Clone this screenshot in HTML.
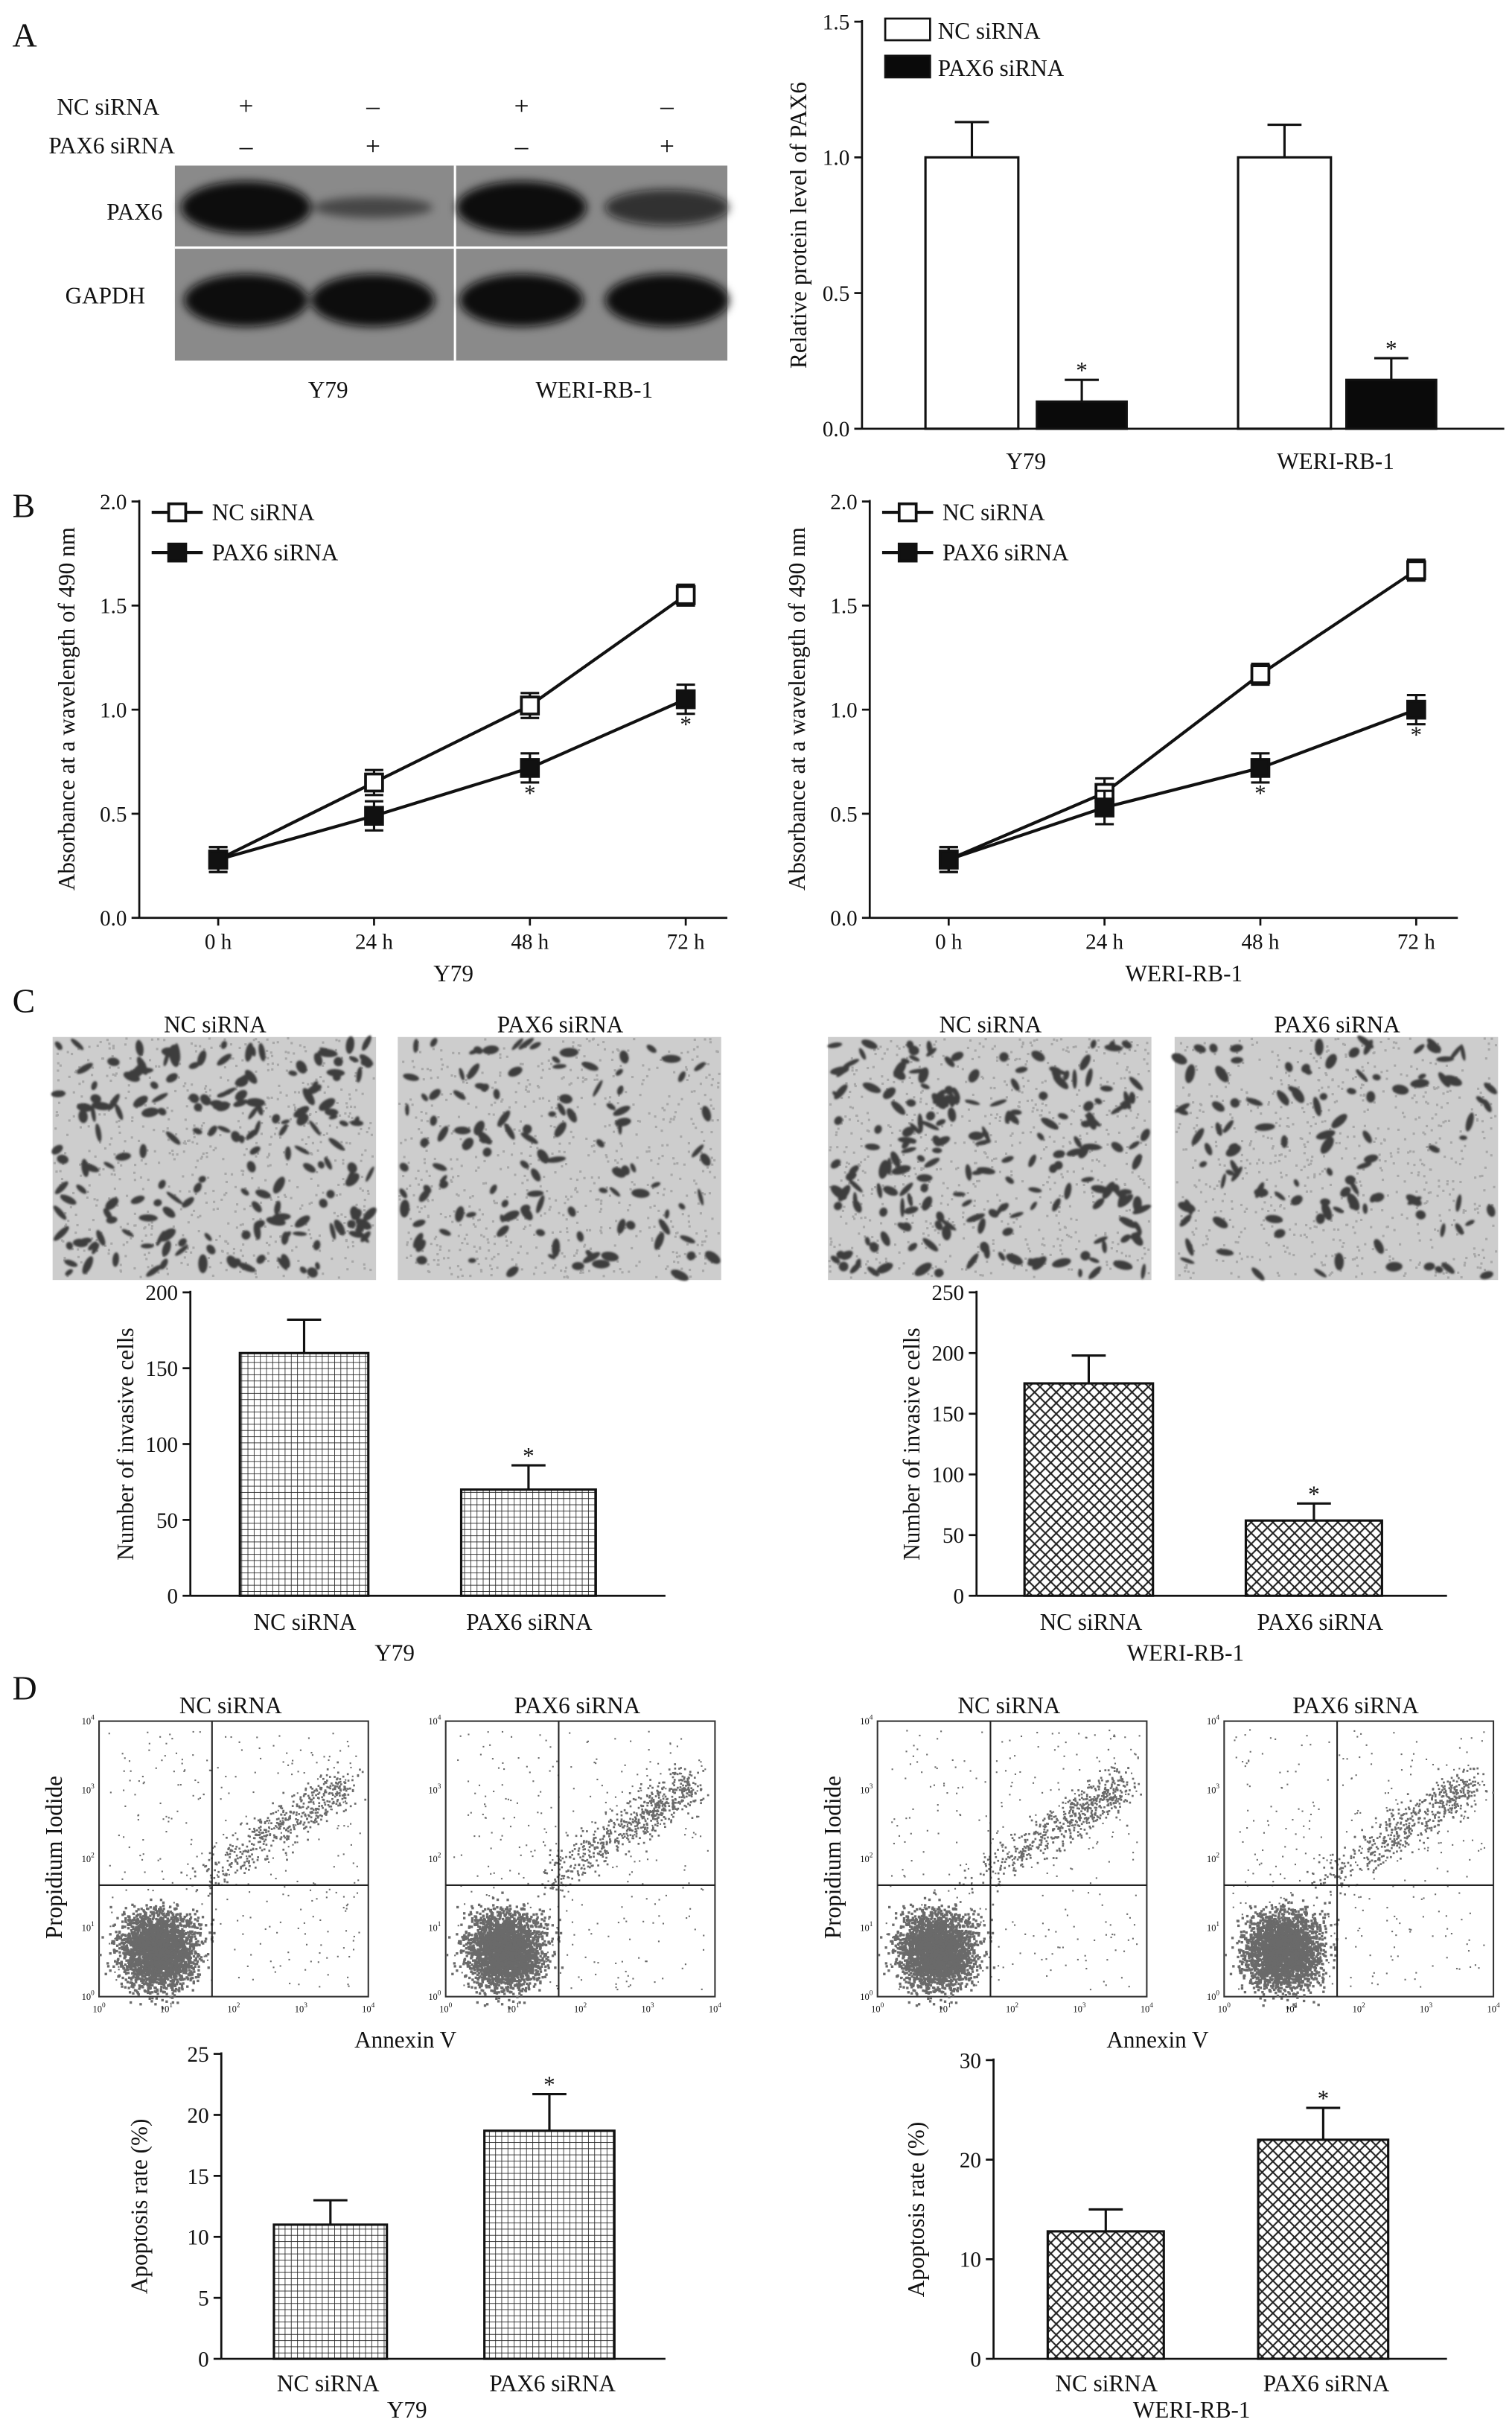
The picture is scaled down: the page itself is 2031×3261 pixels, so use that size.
<!DOCTYPE html>
<html><head><meta charset="utf-8"><title>PAX6 siRNA figure</title>
<style>
html,body{margin:0;padding:0;background:#fff;}
svg{display:block;}
text{font-family:"Liberation Serif",serif;fill:#111;}
</style></head>
<body>
<svg id="fig" xmlns="http://www.w3.org/2000/svg" width="2031" height="3261" viewBox="0 0 977 1568.7" preserveAspectRatio="none">
<defs>
<pattern id="grid" width="4" height="4" patternUnits="userSpaceOnUse"><rect width="4" height="4" fill="#fff"/><path d="M0 0H4M0 0V4" stroke="#222" stroke-width="0.8"/></pattern>
<pattern id="cross" width="7" height="7" patternUnits="userSpaceOnUse"><rect width="7" height="7" fill="#fff"/><path d="M0 0L7 7M7 0L0 7" stroke="#222" stroke-width="1"/></pattern>
<filter id="blur2"><feGaussianBlur stdDeviation="3"/></filter>
<filter id="blur1"><feGaussianBlur stdDeviation="0.6"/></filter>
</defs>
<g id="root"></g>
</svg>
<script>
// ---------- data ----------
const blotLanes = ["Y79 NC", "Y79 PAX6", "WERI NC", "WERI PAX6"];
const blotPax6Intensity = [1.0, 0.15, 1.0, 0.55];

const aCategories = ["Y79", "WERI-RB-1"];
const aNcValues = [1.0, 1.0];
const aNcErr = [0.13, 0.12];
const aPaxValues = [0.10, 0.18];
const aPaxErr = [0.08, 0.08];
const aTicks = ["0.0", "0.5", "1.0", "1.5"];

const bTimes = ["0 h", "24 h", "48 h", "72 h"];
const bTicks = ["0.0", "0.5", "1.0", "1.5", "2.0"];
const bY79Nc = [0.28, 0.65, 1.02, 1.55];
const bY79NcErr = [0.06, 0.06, 0.06, 0.05];
const bY79Pax = [0.28, 0.49, 0.72, 1.05];
const bY79PaxErr = [0.06, 0.07, 0.07, 0.07];
const bWeriNc = [0.28, 0.60, 1.17, 1.67];
const bWeriNcErr = [0.06, 0.07, 0.05, 0.05];
const bWeriPax = [0.28, 0.53, 0.72, 1.00];
const bWeriPaxErr = [0.06, 0.08, 0.07, 0.07];

const cCategories = ["NC siRNA", "PAX6 siRNA"];
const cY79Values = [160, 70];
const cY79Err = [22, 16];
const cY79Ticks = [0, 50, 100, 150, 200];
const cWeriValues = [175, 62];
const cWeriErr = [23, 14];
const cWeriTicks = [0, 50, 100, 150, 200, 250];

const dY79Values = [11.0, 18.7];
const dY79Err = [2.0, 3.0];
const dY79Ticks = [0, 5, 10, 15, 20, 25];
const dWeriValues = [12.8, 22.0];
const dWeriErr = [2.2, 3.2];
const dWeriTicks = [0, 10, 20, 30];

// ---------- helpers ----------
const NS = "http://www.w3.org/2000/svg";
const root = document.getElementById("root");
function el(tag, attrs, parent) {
  const e = document.createElementNS(NS, tag);
  for (const k in attrs) e.setAttribute(k, attrs[k]);
  (parent || root).appendChild(e);
  return e;
}
function txt(x, y, s, size, anchor, parent, rot) {
  const t = el("text", {x: x, y: y, "font-size": size || 15, "text-anchor": anchor || "middle"}, parent);
  if (rot) t.setAttribute("transform", "rotate(-90 " + x + " " + y + ")");
  t.textContent = s;
  return t;
}
function line(x1, y1, x2, y2, w, parent, col) {
  return el("line", {x1: x1, y1: y1, x2: x2, y2: y2, stroke: col || "#111", "stroke-width": w || 1.3}, parent);
}
let seed = 12345;
function rnd() { seed = (seed * 1103515245 + 12345) % 2147483648; return seed / 2147483648; }
function gauss() { return (rnd() + rnd() + rnd() + rnd() - 2) / 0.58; }

// panel letters
[["A", 8, 30], ["B", 8, 334], ["C", 8, 654], ["D", 8, 1098]].forEach(function (p) {
  const t = txt(p[1], p[2], p[0], 22, "start");
  
  
});

// ---------- Panel A: western blot ----------
const blot = el("g", {});


txt(103, 74, "NC siRNA", 15, "end", blot);
txt(113, 99, "PAX6 siRNA", 15, "end", blot);
const laneX = [159, 241, 337, 431];
const ncSigns = ["+", "\u2013", "+", "\u2013"], paxSigns = ["\u2013", "+", "\u2013", "+"];
laneX.forEach(function (x, i) {
  txt(x, 74, ncSigns[i], 17, "middle", blot);
  txt(x, 100, paxSigns[i], 17, "middle", blot);
});
el("rect", {x: 113, y: 107, width: 357, height: 126, fill: "#8a8a8a"}, blot);
line(294, 107, 294, 233, 1.5, blot, "#fff");
line(113, 160, 470, 160, 1.5, blot, "#fff");
txt(87, 142, "PAX6", 15, "middle", blot);
txt(68, 196, "GAPDH", 15, "middle", blot);
const bandG = el("g", {filter: "url(#blur2)"}, blot);
blotLanes.forEach(function (n, i) {
  const k = blotPax6Intensity[i];
  const b = el("ellipse", {cx: laneX[i], cy: 134, rx: 38 + 4 * k, ry: 5 + 12 * k, fill: "#0a0a0a", opacity: 0.4 + 0.6 * k}, bandG);
  
  
  const g2 = el("ellipse", {cx: laneX[i], cy: 194, rx: 40, ry: 17, fill: "#0a0a0a"}, bandG);
  
  
});
txt(212, 257, "Y79", 15, "middle", blot);
txt(384, 257, "WERI-RB-1", 15, "middle", blot);

// ---------- generic bar chart ----------
function barChart(o) {
  const g = el("g", {});
  
  
  const y = function (v) { return o.bottom - (v - o.min) / (o.max - o.min) * (o.bottom - o.top); };
  line(o.axisX, o.top - 1, o.axisX, o.bottom, 1.3, g);
  line(o.axisX, o.bottom, o.axisEnd, o.bottom, 1.3, g);
  o.ticks.forEach(function (t) {
    const v = parseFloat(t);
    line(o.axisX - 5, y(v), o.axisX, y(v), 1.3, g);
    const tl = txt(o.axisX - 8, y(v) + 5, String(t), 14, "end", g);
    
    
  });
  const yt = txt(o.titleX, (o.top + o.bottom) / 2, o.title, 15, "middle", g, true);
  
  
  o.series.forEach(function (s) {
    s.values.forEach(function (v, i) {
      const b = s.boxes[i];
      const cx = (b[0] + b[1]) / 2;
      const top = y(v + s.err[i]);
      line(cx, y(v), cx, top, 1.5, g);
      line(cx - 11, top, cx + 11, top, 1.5, g);
      const r = el("rect", {x: b[0], y: y(v), width: b[1] - b[0], height: o.bottom - y(v), fill: s.fill, stroke: "#111", "stroke-width": 1.5}, g);
      
      
      if (s.star && s.star[i]) {
        const st = txt(cx, top - 1, "*", 15, "middle", g);
        
        
      }
    });
  });
  (o.catLabels || []).forEach(function (c) {
    const t = txt(c[0], c[1], c[2], 15, "middle", g);
    
    
  });
  return g;
}

// Panel A bar chart
barChart({
  name: "relative-protein-chart", axisX: 557, axisEnd: 972, top: 14, bottom: 277, min: 0, max: 1.5,
  ticks: aTicks, title: "Relative protein level of PAX6", titleX: 521,
  series: [
    {key: "nc", values: aNcValues, err: aNcErr, fill: "#fff", boxes: [[598, 658], [800, 860]]},
    {key: "pax6", values: aPaxValues, err: aPaxErr, fill: "#0a0a0a", boxes: [[670, 728], [870, 928]], star: [1, 1]}
  ],
  catLabels: [[663, 303, aCategories[0]], [863, 303, aCategories[1]]]
});
const legA = el("g", {});


el("rect", {x: 572, y: 12, width: 29, height: 14, fill: "#fff", stroke: "#111", "stroke-width": 1.3}, legA);
txt(606, 25, "NC siRNA", 15, "start", legA);
el("rect", {x: 572, y: 36, width: 29, height: 14, fill: "#0a0a0a", stroke: "#111", "stroke-width": 1.3}, legA);
txt(606, 49, "PAX6 siRNA", 15, "start", legA);

// ---------- Panel B line charts ----------
function lineChart(o) {
  const g = el("g", {});
  
  
  const y = function (v) { return 593 - v / 2.0 * (593 - 324); };
  const x = function (i) { return o.axisX + 51 + i * 100.7; };
  line(o.axisX, 323, o.axisX, 593, 1.3, g);
  line(o.axisX, 593, o.axisX + 380, 593, 1.3, g);
  bTicks.forEach(function (t) {
    const v = parseFloat(t);
    line(o.axisX - 5, y(v), o.axisX, y(v), 1.3, g);
    const tl = txt(o.axisX - 8, y(v) + 5, t, 14, "end", g);
    
    
  });
  bTimes.forEach(function (t, i) {
    line(x(i), 593, x(i), 598, 1.3, g);
    const tl = txt(x(i), 613, t, 14, "middle", g);
    
    
  });
  const xt = txt(o.axisX + 203, 634, o.cat, 15, "middle", g);
  
  
  const yt = txt(o.axisX - 42, 458, "Absorbance at a wavelength of 490 nm", 15, "middle", g, true);
  
  
  [[o.nc, o.ncErr, "#fff", "nc"], [o.pax, o.paxErr, "#111", "pax6"]].forEach(function (s) {
    const pts = s[0].map(function (v, i) { return x(i) + "," + y(v); }).join(" ");
    const pl = el("polyline", {points: pts, fill: "none", stroke: "#111", "stroke-width": 2}, g);
    
    
    s[0].forEach(function (v, i) {
      const e = s[1][i];
      line(x(i), y(v - e), x(i), y(v + e), 1.5, g);
      line(x(i) - 6, y(v - e), x(i) + 6, y(v - e), 1.5, g);
      line(x(i) - 6, y(v + e), x(i) + 6, y(v + e), 1.5, g);
      const m = el("rect", {x: x(i) - 5.5, y: y(v) - 5.5, width: 11, height: 11, fill: s[2], stroke: "#111", "stroke-width": 1.8}, g);
      
      
      if (s[3] === "pax6" && i >= 2) {
        const st = txt(x(i), y(v - e) + 12, "*", 15, "middle", g);
        
        
      }
    });
  });
  const lg = el("g", {}, g);
  
  
  const lx = o.axisX + 8;
  line(lx, 331, lx + 33, 331, 2, lg);
  el("rect", {x: lx + 11, y: 325.5, width: 11, height: 11, fill: "#fff", stroke: "#111", "stroke-width": 1.8}, lg);
  txt(lx + 39, 336, "NC siRNA", 15, "start", lg);
  line(lx, 357, lx + 33, 357, 2, lg);
  el("rect", {x: lx + 11, y: 351.5, width: 11, height: 11, fill: "#111", stroke: "#111", "stroke-width": 1.8}, lg);
  txt(lx + 39, 362, "PAX6 siRNA", 15, "start", lg);
}
lineChart({name: "absorbance-chart-y79", axisX: 90, cat: "Y79", nc: bY79Nc, ncErr: bY79NcErr, pax: bY79Pax, paxErr: bY79PaxErr});
lineChart({name: "absorbance-chart-weri", axisX: 562, cat: "WERI-RB-1", nc: bWeriNc, ncErr: bWeriNcErr, pax: bWeriPax, paxErr: bWeriPaxErr});

// ---------- Panel C micrographs ----------
const micro = [[34, 190], [257, 115], [535, 200], [759, 110]];
const microTitles = ["NC siRNA", "PAX6 siRNA", "NC siRNA", "PAX6 siRNA"];
micro.forEach(function (m, k) {
  const g = el("g", {});
  
  
  txt(m[0] + 105, 667, microTitles[k], 15, "middle", g);
  el("rect", {x: m[0], y: 670, width: 209, height: 157, fill: "#cdcdcd"}, g);
  const tg = el("g", {fill: "#a8a8a8"}, g);
  for (let i = 0; i < 700; i++) {
    el("rect", {x: (m[0] + rnd() * 207).toFixed(1), y: (670 + rnd() * 155).toFixed(1), width: 1.5, height: 1.5}, tg);
  }
  const cg = el("g", {fill: "#3c3c3c", filter: "url(#blur1)"}, g);
  for (let i = 0; i < m[1]; i++) {
    const cx = m[0] + 3 + rnd() * 203, cy = 673 + rnd() * 151;
    el("ellipse", {cx: cx.toFixed(1), cy: cy.toFixed(1), rx: (2.5 + rnd() * 4).toFixed(1), ry: (1.3 + rnd() * 1.8).toFixed(1), transform: "rotate(" + Math.round(rnd() * 180) + " " + cx.toFixed(1) + " " + cy.toFixed(1) + ")"}, cg);
  }
});

barChart({
  name: "invasion-chart-y79", axisX: 123, axisEnd: 430, top: 835, bottom: 1031, min: 0, max: 200,
  ticks: cY79Ticks, title: "Number of invasive cells", titleX: 86,
  series: [{key: "y79", values: cY79Values, err: cY79Err, fill: "url(#grid)", boxes: [[155, 238], [298, 385]], star: [0, 1]}],
  catLabels: [[197, 1053, cCategories[0]], [342, 1053, cCategories[1]], [255, 1073, "Y79"]]
});
barChart({
  name: "invasion-chart-weri", axisX: 631, axisEnd: 935, top: 835, bottom: 1031, min: 0, max: 250,
  ticks: cWeriTicks, title: "Number of invasive cells", titleX: 594,
  series: [{key: "weri", values: cWeriValues, err: cWeriErr, fill: "url(#cross)", boxes: [[662, 745], [805, 893]], star: [0, 1]}],
  catLabels: [[705, 1053, cCategories[0]], [853, 1053, cCategories[1]], [766, 1073, "WERI-RB-1"]]
});

// ---------- Panel D flow plots ----------
const flows = [[64, 0.35], [288, 0.55], [567, 0.45], [791, 0.4]];
flows.forEach(function (f, k) {
  const g = el("g", {});
  
  
  const x0 = f[0], y0 = 1112, w = 174, h = 178;
  txt(x0 + 85, 1107, microTitles[k], 15, "middle", g);
  el("rect", {x: x0, y: y0, width: w, height: h, fill: "#fff", stroke: "#333", "stroke-width": 1}, g);
  const dg = el("g", {fill: "#6a6a6a"}, g);
  for (let i = 0; i < 3000; i++) {
    const cx = x0 + 38 + gauss() * 12, cy = y0 + 148 + gauss() * 12;
    el("rect", {x: cx.toFixed(1), y: cy.toFixed(1), width: 1.6, height: 1.6}, dg);
  }
  for (let i = 0; i < 600 * (0.5 + f[1]); i++) {
    const t = Math.pow(rnd(), 0.6);
    const cx = x0 + 60 + t * 100 + gauss() * 6, cy = y0 + 105 - t * 65 + gauss() * 7;
    el("rect", {x: cx.toFixed(1), y: cy.toFixed(1), width: 1.3, height: 1.3}, dg);
  }
  for (let i = 0; i < 300; i++) {
    el("rect", {x: (x0 + 5 + rnd() * 164).toFixed(1), y: (y0 + 5 + rnd() * 168).toFixed(1), width: 1, height: 1}, dg);
  }
  line(x0 + 73, y0, x0 + 73, y0 + h, 1, g, "#222");
  line(x0, y0 + 106, x0 + w, y0 + 106, 1, g, "#222");
  ["0", "1", "2", "3", "4"].forEach(function (p, i) {
    const a = txt(x0 + i * 43.5, y0 + h + 10, "10", 6, "middle", g);
    const s1 = el("tspan", {dy: -3, "font-size": 4.5}, a); s1.textContent = p;
    const b = txt(x0 - 3, y0 + h - i * 44.5 + 2, "10", 6, "end", g);
    const s2 = el("tspan", {dy: -3, "font-size": 4.5}, b); s2.textContent = p;
  });
});
[[262, 1323], [748, 1323]].forEach(function (p) {
  const t = txt(p[0], p[1], "Annexin V", 15, "middle");
  
  
});
[[40, 1200], [543, 1200]].forEach(function (p) {
  const t = txt(p[0], p[1], "Propidium Iodide", 15, "middle", null, true);
  
  
});

barChart({
  name: "apoptosis-chart-y79", axisX: 143, axisEnd: 430, top: 1327, bottom: 1524, min: 0, max: 25,
  ticks: dY79Ticks, title: "Apoptosis rate (%)", titleX: 95,
  series: [{key: "y79", values: dY79Values, err: dY79Err, fill: "url(#grid)", boxes: [[177, 250], [313, 397]], star: [0, 1]}],
  catLabels: [[212, 1545, cCategories[0]], [357, 1545, cCategories[1]], [263, 1562, "Y79"]]
});
barChart({
  name: "apoptosis-chart-weri", axisX: 642, axisEnd: 935, top: 1331, bottom: 1524, min: 0, max: 30,
  ticks: dWeriTicks, title: "Apoptosis rate (%)", titleX: 597,
  series: [{key: "weri", values: dWeriValues, err: dWeriErr, fill: "url(#cross)", boxes: [[677, 752], [813, 897]], star: [0, 1]}],
  catLabels: [[715, 1545, cCategories[0]], [857, 1545, cCategories[1]], [770, 1562, "WERI-RB-1"]]
});
</script>
</body></html>
